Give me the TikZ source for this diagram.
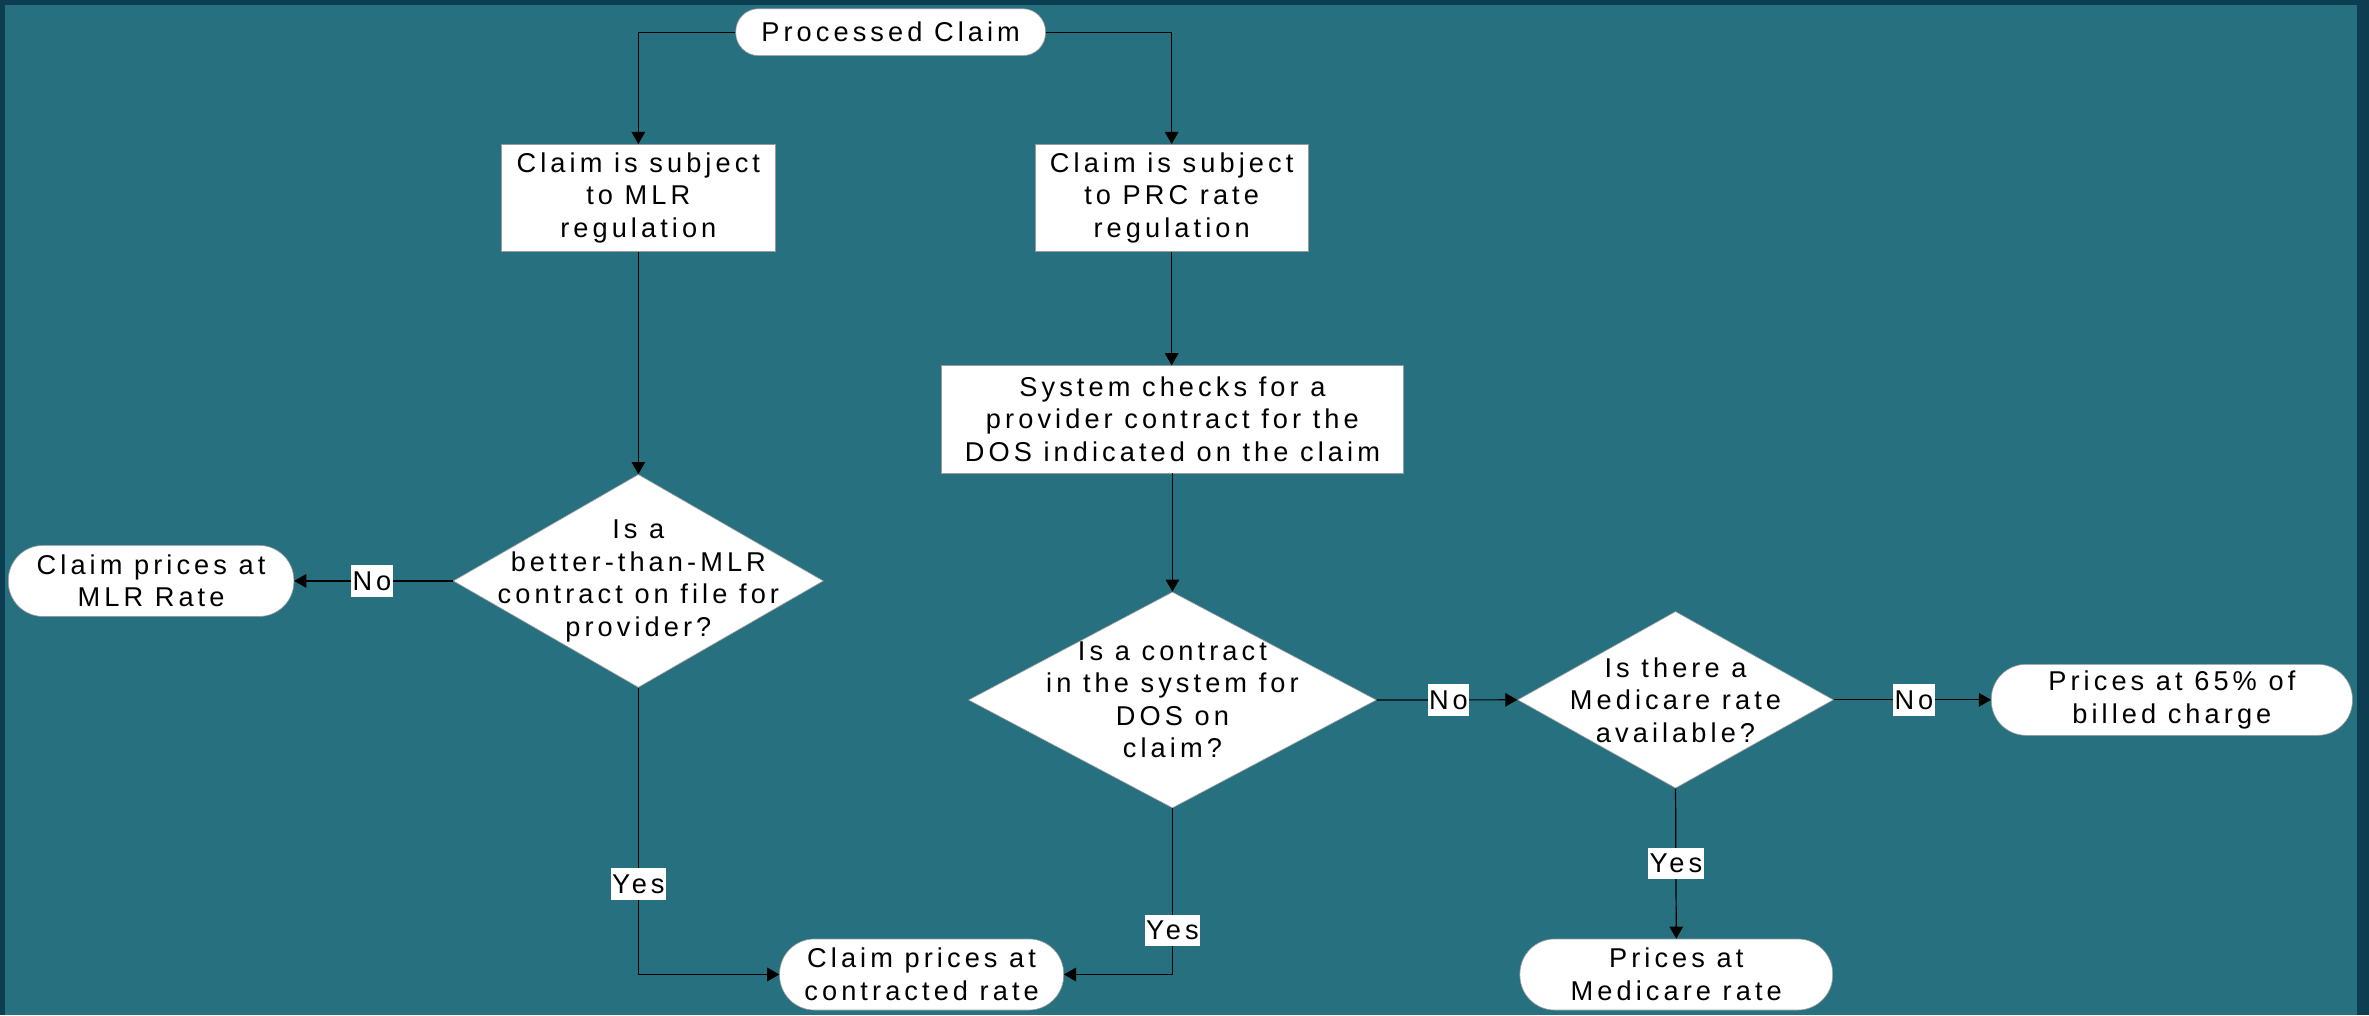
\documentclass[tikz,border=0pt]{standalone}
\usepackage{fontspec}
\setmainfont{Liberation Sans}[LetterSpace=15]
\usetikzlibrary{shapes.geometric,arrows.meta}
\definecolor{bgborder}{HTML}{0C3D50}
\definecolor{bgfill}{HTML}{27707F}
\definecolor{edgegray}{HTML}{9A9A9A}
\tikzset{
  txt/.style={font=\fontsize{18}{21.5}\selectfont, align=center, inner sep=0pt, text=black},
  procbox/.style={txt, draw=edgegray, line width=0.4pt, fill=white, minimum width=#1, minimum height=71pt},
  stadium/.style={txt, draw=edgegray, line width=0.4pt, fill=white, rounded corners=23pt, minimum width=#1, minimum height=47pt},
  decision/.style={diamond, draw=edgegray, line width=0.4pt, fill=white, inner sep=0pt},
  conn/.style={draw=black, line width=0.8pt, -{Triangle[length=8pt,width=9pt]}},
  lab/.style={txt, fill=white, inner xsep=1pt, inner ysep=0pt, minimum height=21pt}
}
\begin{document}
\begin{tikzpicture}[x=1pt,y=-1pt]
\useasboundingbox (0,0) rectangle (1568,672);
\fill[bgborder] (0,0) rectangle (1568,672);
\fill[bgfill] (3.1,3.3) rectangle (1559.8,672);

% nodes
\node[stadium=205pt, minimum height=31pt, rounded corners=15pt] (pc) at (589.5,21.3) {Processed Claim};
\node[procbox=181pt] (mlr) at (422.5,131) {Claim is subject\\to MLR\\regulation};
\node[procbox=181pt] (prc) at (775.5,131) {Claim is subject\\to PRC rate\\regulation};
\node[procbox=306pt] (sys) at (776,277.5) {System checks for a\\provider contract for the\\DOS indicated on the claim};

\node[decision, minimum width=245pt, minimum height=141pt] (d1) at (422.5,384.5) {};
\node[txt] (d1t) at (d1.center) {Is a\\better-than-MLR\\contract on file for\\provider?};

\node[stadium=189pt] (mlrrate) at (100,384.5) {Claim prices at\\MLR Rate};

\node[decision, minimum width=270pt, minimum height=143pt] (d2) at (776,463.3) {};
\node[txt] (d2t) at (d2.center) {Is a contract\\in the system for\\DOS on\\claim?};

\node[decision, minimum width=209pt, minimum height=117pt] (d3) at (1109,463.2) {};
\node[txt] (d3t) at (d3.center) {Is there a\\Medicare rate\\available?};

\node[stadium=239pt] (p65) at (1437.5,463.2) {Prices at 65\% of\\billed charge};
\node[stadium=188pt] (contr) at (610,645) {Claim prices at\\contracted rate};
\node[stadium=207pt] (med) at (1109.5,645) {Prices at\\Medicare rate};

% connectors
\draw[conn] (pc.west) -| (mlr.north);
\draw[conn] (pc.east) -| (prc.north);
\draw[conn] (prc.south) -- (sys.north -| prc.south);
\draw[conn] (mlr.south) -- (d1.north);
\draw[conn] (sys.south) -- (d2.north);
\draw[conn] (d1.west) -- node[lab, pos=0.51] (l1) {No} (mlrrate.east);
\draw[conn] (d1.south) |- node[lab, pos=0.342] (l2) {Yes} (contr.west);
\draw[conn] (d2.south) |- node[lab, pos=0.368] (l3) {Yes} (contr.east);
\draw[conn] (d2.east) -- node[lab, pos=0.51] (l4) {No} (d3.west);
\draw[conn] (d3.east) -- node[lab, pos=0.51] (l5) {No} (p65.west);
\draw[conn] (d3.south) -- node[lab, pos=0.5] (l6) {Yes} (med.north);
\end{tikzpicture}
\end{document}
